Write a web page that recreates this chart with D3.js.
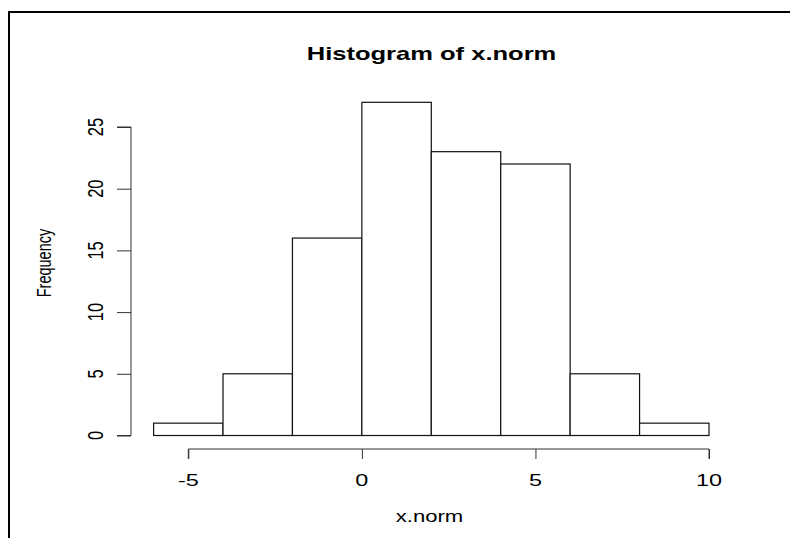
<!DOCTYPE html>
<html><head><meta charset="utf-8">
<script src="https://cdn.jsdelivr.net/npm/d3@7"></script>
<style>html,body{margin:0;padding:0;background:#fff;}svg{display:block;}</style>
</head><body>
<script>
const title = "Histogram of x.norm";
const xLabel = "x.norm";
const yLabel = "Frequency";
const breaks = [-6, -4, -2, 0, 2, 4, 6, 8, 10];
const counts = [1, 5, 16, 27, 23, 22, 5, 1];
const xTicks = [-5, 0, 5, 10];
const yTicks = [0, 5, 10, 15, 20, 25];

const W = 790, H = 538, SX = 1.38;
const svg = d3.select("body").append("svg").attr("width", W).attr("height", H);

// frame
svg.append("rect").attr("x", 9).attr("y", 12).attr("width", 1000).attr("height", 1000)
  .attr("fill", "none").attr("stroke", "#000").attr("stroke-width", 2);

const x = d3.scaleLinear().domain([-6, 10]).range([153.6, 709]);
const y = d3.scaleLinear().domain([0, 25]).range([435.5, 127]);

const bins = counts.map((c, i) => ({x0: breaks[i], x1: breaks[i + 1], c}));
svg.append("g").selectAll("rect").data(bins).join("rect")
  .attr("x", d => x(d.x0)).attr("y", d => y(d.c))
  .attr("width", d => x(d.x1) - x(d.x0)).attr("height", d => y(0) - y(d.c))
  .attr("fill", "#fff").attr("stroke", "#111").attr("stroke-width", 1.2);

// x axis
const gx = svg.append("g").attr("transform", "translate(0,449)");
gx.call(d3.axisBottom(x).tickValues(xTicks).tickSize(10).tickFormat(() => ""));
gx.select(".domain").attr("d", `M${x(xTicks[0])},10V0H${x(xTicks[xTicks.length-1])}V10`).attr("stroke", "#333");
gx.selectAll(".tick line").attr("stroke", "#333");
gx.selectAll(".tick text").remove();
svg.append("g").selectAll("text").data(xTicks).join("text")
  .attr("transform", d => `translate(${x(d)},486) scale(${SX},1)`)
  .attr("text-anchor", "middle").attr("font-family", "Liberation Sans, Arial, sans-serif")
  .attr("font-size", 17).text(d => d);

// y axis
const gy = svg.append("g").attr("transform", "translate(131,0)");
gy.call(d3.axisLeft(y).tickValues(yTicks).tickSize(14).tickFormat(() => ""));
gy.select(".domain").attr("d", `M-14,${y(yTicks[0])}H0V${y(yTicks[yTicks.length-1])}H-14`).attr("stroke", "#333");
gy.selectAll(".tick line").attr("stroke", "#333");
svg.append("g").selectAll("text").data(yTicks).join("text")
  .attr("transform", d => `translate(102.5,${y(d)}) scale(${SX},1) rotate(-90)`)
  .attr("text-anchor", "middle").attr("font-family", "Liberation Sans, Arial, sans-serif")
  .attr("font-size", 16.5).text(d => d);

// titles
svg.append("text").attr("transform", `translate(431.5,60) scale(${SX},1)`)
  .attr("text-anchor", "middle").attr("font-family", "Liberation Sans, Arial, sans-serif")
  .attr("font-weight", "bold").attr("font-size", 18.5).text(title);
svg.append("text").attr("transform", `translate(429.5,521.5) scale(${SX},1)`)
  .attr("text-anchor", "middle").attr("font-family", "Liberation Sans, Arial, sans-serif")
  .attr("font-size", 16).text(xLabel);
svg.append("text").attr("transform", `translate(51,263) scale(${SX},1) rotate(-90)`)
  .attr("text-anchor", "middle").attr("font-family", "Liberation Sans, Arial, sans-serif")
  .attr("font-size", 14.5).text(yLabel);
</script>
</body></html>
